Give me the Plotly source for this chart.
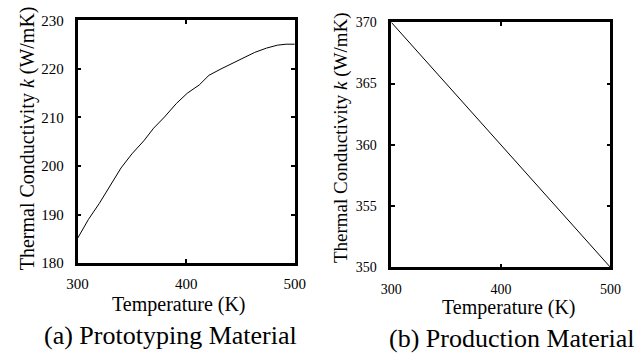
import plotly.graph_objects as go

temp_a = [300, 310, 320, 329, 340, 350, 361, 370, 380, 391, 401, 412, 421, 432, 441, 453, 463, 474, 484, 492, 500]
k_a = [185.1, 189.0, 192.3, 195.6, 199.6, 202.5, 205.2, 207.8, 210.1, 212.9, 215.0, 216.7, 218.7, 220.0, 221.0, 222.3, 223.4, 224.3, 224.9, 225.1, 225.1]

temp_b = [300, 310, 320, 330, 340, 350, 360, 370, 380, 390, 400, 410, 420, 430, 440, 450, 460, 470, 480, 490, 500]
k_b = [370, 369, 368, 367, 366, 365, 364, 363, 362, 361, 360, 359, 358, 357, 356, 355, 354, 353, 352, 351, 350]

x_ticks = [300, 400, 500]
y_ticks_a = [180, 190, 200, 210, 220, 230]
y_ticks_b = [350, 355, 360, 365, 370]

FONT = "Times New Roman, Liberation Serif, DejaVu Serif, serif"
W, H = 634, 358

fig = go.Figure()
fig.add_trace(go.Scatter(x=temp_a, y=k_a, mode="lines", line=dict(color="black", width=1),
                         xaxis="x", yaxis="y", showlegend=False))
fig.add_trace(go.Scatter(x=temp_b, y=k_b, mode="lines", line=dict(color="black", width=1),
                         xaxis="x2", yaxis="y2", showlegend=False))

def px_x(p):
    return p / W

def px_y(p):
    return 1 - p / H

axis_common = dict(showline=True, linecolor="black", linewidth=2.5, mirror="allticks",
                   ticks="inside", ticklen=4, tickwidth=1.5, tickcolor="black",
                   showgrid=False, zeroline=False)

fig.update_layout(
    width=W, height=H,
    margin=dict(l=0, r=0, t=0, b=0),
    paper_bgcolor="white", plot_bgcolor="white",
    font=dict(family=FONT, color="black"),
    xaxis=dict(domain=[px_x(69), px_x(294)], range=[300, 500], tickvals=x_ticks,
               anchor="y", ticklabelstandoff=5, tickfont=dict(family=FONT, size=15, color="black"),
               **axis_common),
    yaxis=dict(domain=[px_y(267), px_y(13)], range=[180, 230], tickvals=y_ticks_a,
               anchor="x", ticklabelstandoff=8, tickfont=dict(family=FONT, size=15, color="black"),
               **axis_common),
    xaxis2=dict(domain=[px_x(394), px_x(621)], range=[300, 500], tickvals=x_ticks,
                anchor="y2", ticklabelstandoff=7, tickfont=dict(family=FONT, size=14, color="black"),
                **axis_common),
    yaxis2=dict(domain=[px_y(271.5), px_y(15)], range=[350, 370], tickvals=y_ticks_b,
                anchor="x2", ticklabelstandoff=9, tickfont=dict(family=FONT, size=14, color="black"),
                **axis_common),
)

ann = [
    dict(text="Temperature (K)", x=px_x(174), y=px_y(310), size=20),
    dict(text="Temperature (K)", x=px_x(516), y=px_y(314), size=20),
    dict(text="(a) Prototyping Material", x=px_x(165), y=px_y(343), size=26),
    dict(text="(b) Production Material", x=px_x(519), y=px_y(346), size=26),
]
for a in ann:
    fig.add_annotation(text=a["text"], x=a["x"], y=a["y"], xref="paper", yref="paper",
                       showarrow=False, xanchor="center", yanchor="middle",
                       font=dict(family=FONT, size=a["size"], color="black"))

ytitle = "Thermal Conductivity <i>k</i> (W/mK)"
fig.add_annotation(text=ytitle, x=px_x(18), y=px_y(136), xref="paper", yref="paper",
                   showarrow=False, textangle=-90, xanchor="center", yanchor="middle",
                   font=dict(family=FONT, size=20, color="black"))
fig.add_annotation(text=ytitle, x=px_x(342), y=px_y(136), xref="paper", yref="paper",
                   showarrow=False, textangle=-90, xanchor="center", yanchor="middle",
                   font=dict(family=FONT, size=19, color="black"))

fig.write_html("out.html")
